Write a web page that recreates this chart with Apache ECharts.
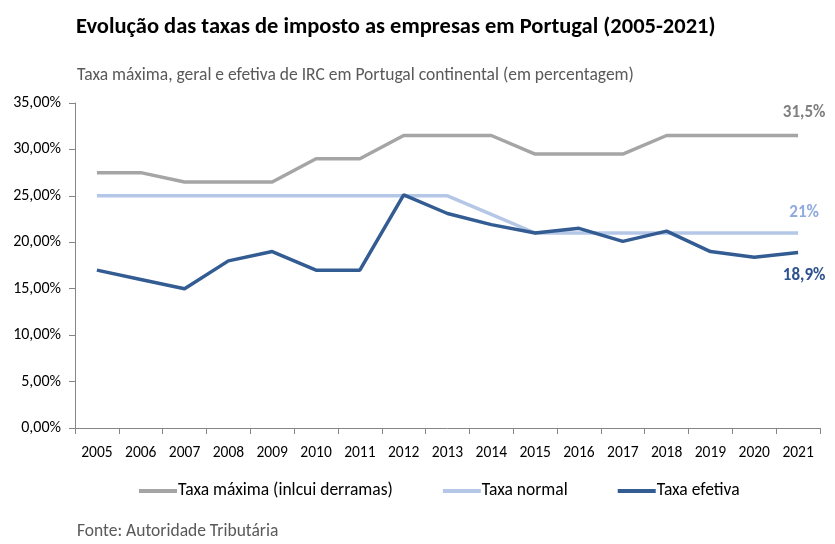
<!DOCTYPE html>
<html>
<head>
<meta charset="utf-8">
<script src="https://cdn.jsdelivr.net/npm/echarts@6/dist/echarts.min.js"></script>
<style>
  html, body { margin: 0; padding: 0; background: #fff; }
  #chart { width: 835px; height: 544px; }
</style>
</head>
<body>
<div id="chart"></div>
<script>
// anos
var anos = ['2005', '2006', '2007', '2008', '2009', '2010', '2011', '2012', '2013',
            '2014', '2015', '2016', '2017', '2018', '2019', '2020', '2021'];

// taxas (%)
var taxaMaxima = [27.5, 27.5, 26.5, 26.5, 26.5, 29, 29, 31.5, 31.5, 31.5, 29.5, 29.5, 29.5, 31.5, 31.5, 31.5, 31.5];
var taxaNormal = [25, 25, 25, 25, 25, 25, 25, 25, 25, 23, 21, 21, 21, 21, 21, 21, 21];
var taxaEfetiva = [17, 16, 15, 18, 19, 17, 17, 25.1, 23.1, 21.9, 21, 21.5, 20.1, 21.2, 19, 18.4, 18.9];

var fonte = 'Calibri, Carlito, Lato, "Liberation Sans", sans-serif';

var pct = function (v) {
    return String(v).replace('.', ',') + '%';
};

// label only on the last point
var lastLabel = function (data, color, position, distance) {
    return data.map(function (v, i) {
        if (i !== data.length - 1) {
            return v;
        }
        return {
            value: v,
            label: {
                show: true,
                position: position,
                distance: distance,
                offset: [6, 0],
                color: color,
                fontWeight: 'bold',
                fontSize: 17,
                fontFamily: fonte,
                formatter: function (p) { return pct(p.value); }
            }
        };
    });
};

var options = {
    animation: false,
    textStyle: { fontFamily: fonte },
    title: [
        {
            text: 'Evolução das taxas de imposto as empresas em Portugal (2005-2021)',
            left: 71,
            top: 11,
            textStyle: { fontSize: 22.5, fontWeight: 'bold', color: '#000', fontFamily: fonte }
        },
        {
            text: 'Taxa máxima, geral e efetiva de IRC em Portugal continental (em percentagem)',
            left: 72,
            top: 62,
            textStyle: { fontSize: 17.5, fontWeight: 'normal', color: '#595959', fontFamily: fonte }
        },
        {
            text: 'Fonte: Autoridade Tributária',
            left: 72,
            top: 518,
            textStyle: { fontSize: 17.5, fontWeight: 'normal', color: '#595959', fontFamily: fonte }
        }
    ],
    legend: {
        bottom: 39,
        left: 134,
        itemGap: 50,
        itemWidth: 38,
        itemHeight: 4,
        icon: 'rect',
        textStyle: { fontSize: 17.5, color: '#000', fontFamily: fonte, padding: [0, 0, 0, -4] },
        data: ['Taxa máxima (inlcui derramas)', 'Taxa normal', 'Taxa efetiva']
    },
    grid: {
        left: 75,
        right: 15,
        top: 103,
        bottom: 116
    },
    xAxis: {
        type: 'category',
        data: anos,
        axisLine: { lineStyle: { color: '#868686' } },
        axisTick: { show: true, length: 6, interval: 0, lineStyle: { color: '#868686' } },
        axisLabel: { color: '#000', fontSize: 15.5, margin: 17, interval: 0, hideOverlap: false, fontFamily: fonte }
    },
    yAxis: {
        type: 'value',
        min: 0,
        max: 35,
        interval: 5,
        splitLine: { show: false },
        axisLine: { show: true, lineStyle: { color: '#868686' } },
        axisTick: { show: true, length: 6, lineStyle: { color: '#868686' } },
        axisLabel: {
            color: '#000',
            fontSize: 16,
            margin: 14,
            fontFamily: fonte,
            formatter: function (v) { return v.toFixed(2).replace('.', ',') + '%'; }
        }
    },
    series: [
        {
            name: 'Taxa máxima (inlcui derramas)',
            type: 'line',
            data: lastLabel(taxaMaxima, '#7f7f7f', 'top', 14),
            symbol: 'circle',
            symbolSize: 0,
            showSymbol: true,
            itemStyle: { color: '#a5a5a5' },
            lineStyle: { color: '#a5a5a5', width: 3.5 }
        },
        {
            name: 'Taxa normal',
            type: 'line',
            data: lastLabel(taxaNormal, '#8faadc', 'top', 12),
            symbol: 'circle',
            symbolSize: 0,
            showSymbol: true,
            itemStyle: { color: '#b4c7e7' },
            lineStyle: { color: '#b4c7e7', width: 3.5 }
        },
        {
            name: 'Taxa efetiva',
            type: 'line',
            data: lastLabel(taxaEfetiva, '#2f528f', 'bottom', 15),
            symbol: 'circle',
            symbolSize: 0,
            showSymbol: true,
            itemStyle: { color: '#335c93' },
            lineStyle: { color: '#335c93', width: 3.5 }
        }
    ]
};

var chart = echarts.init(document.getElementById('chart'));
chart.setOption(options);
</script>
</body>
</html>
